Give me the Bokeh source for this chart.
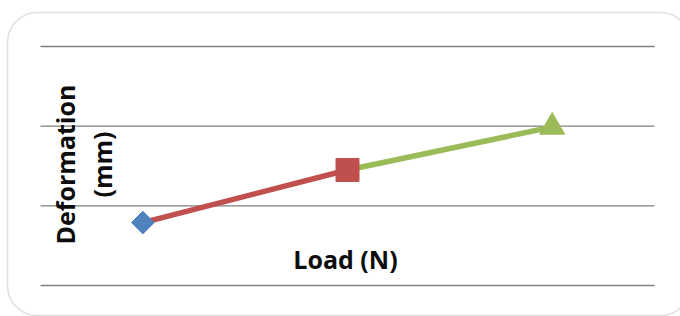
import numpy as np
from bokeh.plotting import figure
from bokeh.models import Range1d, Label, BoxAnnotation, ColumnDataSource
from bokeh.embed import file_html
from bokeh.resources import INLINE

# ---- data ----
loads = [1, 2, 3]
deformation = [0.79, 1.45, 1.99]
y_ticks = [0, 1, 2, 3]
x_title = "Load (N)"
y_title_lines = ["Deformation", "(mm)"]

# ---- styles ----
point_colors = ["#4F81BD", "#C0504D", "#9BBB59"]
point_markers = ["square", "square", "triangle"]
point_angles = [np.pi / 4, 0.0, 0.0]
point_sizes = [16, 23, 25]

W, H = 680, 316
# plot area in pixels (frame spans the whole canvas)
PL, PR, PT, PB = 40, 654, 46, 285
x_lo, x_hi = 0.5, 3.5
y_lo, y_hi = y_ticks[0], y_ticks[-1]
kx = (PR - PL) / (x_hi - x_lo)
ky = (PB - PT) / (y_hi - y_lo)
xs = x_lo - PL / kx
xe = xs + W / kx
ys = y_lo - (H - PB) / ky
ye = ys + H / ky


def px_x(px):
    return xs + px / kx


def px_y(py):
    return ys + (H - py) / ky


p = figure(width=W, height=H, output_backend="svg", toolbar_location=None,
           x_range=Range1d(xs, xe), y_range=Range1d(ys, ye),
           min_border=0, min_border_left=0, min_border_right=0,
           min_border_top=0, min_border_bottom=0)
p.axis.visible = False
p.grid.visible = False
p.outline_line_color = None
p.background_fill_color = "white"
p.border_fill_color = "white"

# rounded chart border
border = BoxAnnotation(left=px_x(7), right=px_x(690), top=px_y(12), bottom=px_y(315),
                       fill_color=None, line_color="#9a9a9a", line_width=1.6,
                       border_radius=30)
p.add_layout(border)

# horizontal gridlines at the y ticks, spanning the plot area
p.segment(x0=[x_lo] * len(y_ticks), x1=[x_hi] * len(y_ticks), y0=y_ticks, y1=y_ticks,
          line_color="#7f7f7f", line_width=1.4)

# line segments coloured by end point
p.segment(x0=loads[:-1], y0=deformation[:-1], x1=loads[1:], y1=deformation[1:],
          line_color=point_colors[1:], line_width=5.5)

src = ColumnDataSource(dict(x=loads, y=deformation, c=point_colors,
                            m=point_markers, a=point_angles, s=point_sizes))
p.scatter("x", "y", source=src, marker="m", angle="a", size="s",
          fill_color="c", line_color="c", line_width=1)

font = "Open Sans"
fs = "25px"
p.add_layout(Label(x=px_x(64), y=px_y(164), text=y_title_lines[0], angle=np.pi / 2,
                   text_align="center", text_baseline="middle",
                   text_font=font, text_font_style="bold", text_font_size=fs,
                   text_color="#0d0d0d"))
p.add_layout(Label(x=px_x(101), y=px_y(164), text=y_title_lines[1], angle=np.pi / 2,
                   text_align="center", text_baseline="middle",
                   text_font=font, text_font_style="bold", text_font_size=fs,
                   text_color="#0d0d0d"))
p.add_layout(Label(x=px_x(345), y=px_y(258), text=x_title,
                   text_align="center", text_baseline="middle",
                   text_font=font, text_font_style="bold", text_font_size=fs,
                   text_color="#0d0d0d"))

open("out.html", "w").write(file_html(p, INLINE))
